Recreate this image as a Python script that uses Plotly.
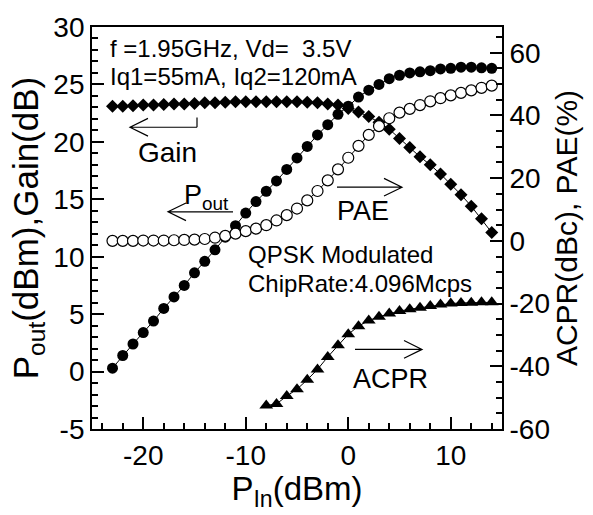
import plotly.graph_objects as go

# ---------------- data ----------------
pin = list(range(-23, 15))  # input power, dBm (1 dB steps)

gain = [23.1, 23.1, 23.15, 23.2, 23.2, 23.25, 23.3, 23.3, 23.35, 23.4,
        23.4, 23.45, 23.5, 23.5, 23.5, 23.5, 23.5, 23.5, 23.5, 23.45,
        23.4, 23.3, 23.2, 22.9, 22.6, 22.2, 21.7, 21.1, 20.3, 19.5,
        18.7, 18.0, 17.2, 16.3, 15.4, 14.4, 13.3, 12.1]

pout = [0.3, 1.4, 2.4, 3.4, 4.4, 5.5, 6.5, 7.5, 8.6, 9.6,
        10.6, 11.7, 12.7, 13.8, 14.8, 15.7, 16.6, 17.6, 18.6, 19.6,
        20.6, 21.5, 22.4, 23.1, 23.9, 24.5, 25.0, 25.5, 25.8, 26.0,
        26.1, 26.2, 26.35, 26.4, 26.5, 26.5, 26.45, 26.4]

pae = [0.0, 0.0, 0.0, 0.1, 0.1, 0.1, 0.2, 0.3, 0.4, 0.6,
       1.0, 1.6, 2.3, 3.1, 3.9, 5.0, 6.5, 8.2, 10.3, 12.9,
       15.9, 19.3, 22.8, 26.5, 30.3, 33.8, 36.6, 39.1, 40.9, 42.1,
       43.3, 44.5, 45.5, 46.4, 47.2, 48.0, 48.8, 49.5]

pin_acpr = list(range(-8, 15))
acpr = [-52.5, -52.0, -49.5, -47.3, -44.3, -41.0, -37.0, -33.3, -29.8, -27.2,
        -25.4, -24.2, -23.2, -22.4, -21.8, -21.3, -20.8, -20.3, -20.0, -19.8,
        -19.7, -19.6, -19.6]

x_ticks = [-20, -10, 0, 10]
x_labels = ["-20", "-10", "0", "10"]
yl_ticks = [-5, 0, 5, 10, 15, 20, 25, 30]
yl_labels = ["-5", "0", "5", "10", "15", "20", "25", "30"]
yr_ticks = [-60, -40, -20, 0, 20, 40, 60]
yr_labels = ["-60", "-40", "-20", "0", "20", "40", "60"]

# ---------------- styling ----------------
FONT = "Arial, Liberation Sans, sans-serif"
W, H = 593, 515
L, R, T, B = 92, 91, 20, 86
X_RANGE = [-25, 15]
YL_RANGE = [-5, 30]
YR_RANGE = [-60, 68.2]

# layout helpers: pixel position in the figure -> axis position (labels/arrows)
PX0, PX1 = L, W - R
PY0, PY1 = T, H - B


def ax_x(p):
    return X_RANGE[0] + (p - PX0) / (PX1 - PX0) * (X_RANGE[1] - X_RANGE[0])


def ax_y(p):
    return YL_RANGE[1] - (p - PY0) / (PY1 - PY0) * (YL_RANGE[1] - YL_RANGE[0])


fig = go.Figure()

line_style = dict(color="black", width=1)

fig.add_trace(go.Scatter(x=pin, y=gain, mode="lines+markers", line=line_style,
                         marker=dict(symbol="diamond", size=10, color="black"),
                         name="Gain", yaxis="y"))
fig.add_trace(go.Scatter(x=pin, y=pout, mode="lines+markers", line=line_style,
                         marker=dict(symbol="circle", size=11, color="black"),
                         name="Pout", yaxis="y"))
fig.add_trace(go.Scatter(x=pin, y=pae, mode="lines+markers", line=line_style,
                         marker=dict(symbol="circle", size=11, color="white",
                                     line=dict(color="black", width=1.2)),
                         name="PAE", yaxis="y2"))
fig.add_trace(go.Scatter(x=pin_acpr, y=acpr, mode="lines+markers", line=line_style,
                         marker=dict(symbol="triangle-up", size=12, color="black"),
                         name="ACPR", yaxis="y2"))

axis_common = dict(showgrid=False, zeroline=False, showline=True, linecolor="black",
                   linewidth=1.8, ticks="inside", tickcolor="black", tickwidth=1.5,
                   ticklen=12, tickfont=dict(family=FONT, size=28, color="black"))

fig.update_layout(
    width=W, height=H,
    margin=dict(l=L, r=R, t=T, b=B),
    paper_bgcolor="white", plot_bgcolor="white",
    showlegend=False,
    font=dict(family=FONT, color="black"),
    xaxis=dict(range=X_RANGE, tickvals=x_ticks, ticktext=x_labels, mirror=True,
               minor=dict(dtick=2, tick0=0, ticks="inside", ticklen=6,
                          tickcolor="black", tickwidth=1.5),
               title=dict(text="P<sub>In</sub>(dBm)", font=dict(size=33), standoff=6),
               **axis_common),
    yaxis=dict(range=YL_RANGE, tickvals=yl_ticks, ticktext=yl_labels,
               minor=dict(dtick=1, tick0=0, ticks="inside", ticklen=6,
                          tickcolor="black", tickwidth=1.5),
               title=dict(text="P<sub>out</sub>(dBm),Gain(dB)", font=dict(size=35), standoff=4),
               **axis_common),
    yaxis2=dict(range=YR_RANGE, tickvals=yr_ticks, ticktext=yr_labels,
                overlaying="y", side="right",
                minor=dict(dtick=5, tick0=0, ticks="inside", ticklen=6,
                           tickcolor="black", tickwidth=1.5),
                title=dict(text="ACPR(dBc), PAE(%)", font=dict(size=30), standoff=6),
                **axis_common),
)

# ---------------- annotations ----------------
def note(text, xp, yp, size, xanchor="center"):
    fig.add_annotation(text=text, x=ax_x(xp), y=ax_y(yp), xref="x", yref="y",
                       xanchor=xanchor, yanchor="middle", showarrow=False,
                       font=dict(family=FONT, size=size, color="black"))


NB = "\u00a0"
note("f =1.95GHz, Vd=" + NB + NB + "3.5V", 108, 42, 24, "left")
note("Iq1=55mA, Iq2=120mA", 108, 70, 24, "left")
note("Gain", 167, 148, 28)
note("P<sub>out</sub>", 182, 193, 27, "left")
note("PAE", 363, 207, 27)
note("QPSK Modulated", 246, 251, 24, "left")
note("ChipRate:4.096Mcps", 246, 281, 24, "left")
note("ACPR", 390, 378, 27)


def arrow(x0, x1, yp, head_left, tick=False):
    if head_left:
        tip, base = x0, x0 + 18
    else:
        tip, base = x1, x1 - 18
    path = (f"M {ax_x(x0)},{ax_y(yp)} L {ax_x(x1)},{ax_y(yp)} "
            f"M {ax_x(base)},{ax_y(yp - 9)} L {ax_x(tip)},{ax_y(yp)} "
            f"L {ax_x(base)},{ax_y(yp + 9)}")
    if tick:
        path += f" M {ax_x(x1)},{ax_y(yp)} L {ax_x(x1)},{ax_y(yp - 10)}"
    fig.add_shape(type="path", path=path, xref="x", yref="y",
                  line=dict(color="black", width=1.2))


arrow(130, 197, 122, True, tick=True)
arrow(168, 233, 208, True)
arrow(337, 402, 183, False)
arrow(355, 422, 348, False)

fig.write_html(
    "out.html",
    config={"displayModeBar": False},
    post_script="document.body.style.margin='0';document.body.style.overflow='hidden';",
)
